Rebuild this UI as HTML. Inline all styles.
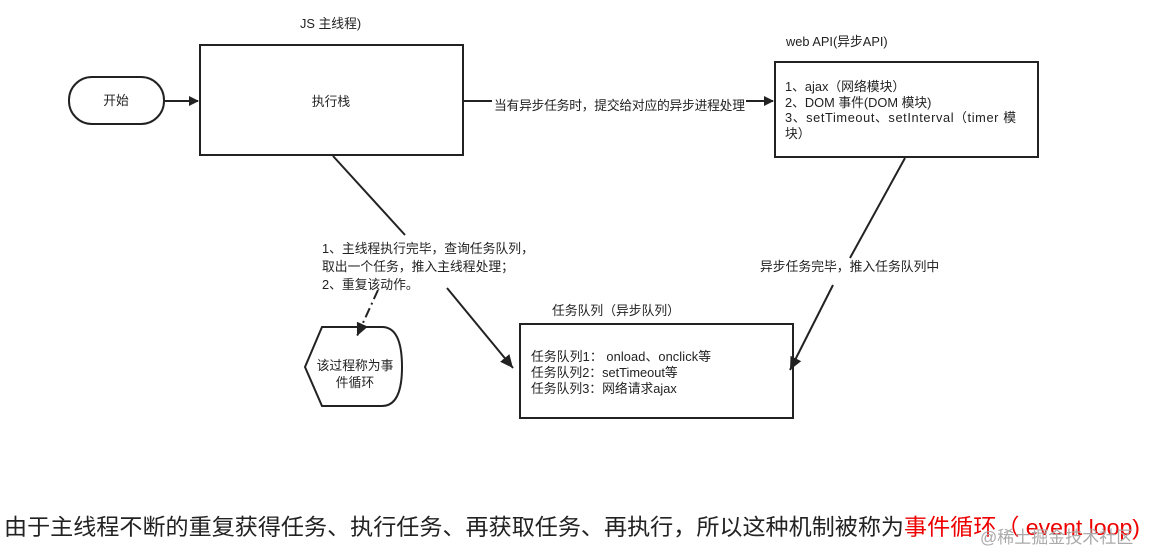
<!DOCTYPE html>
<html><head><meta charset="utf-8"><style>
body{margin:0;background:#fff;width:1149px;height:552px;overflow:hidden}
svg text{font-family:"Liberation Sans","Noto Sans CJK SC",sans-serif;fill:#222}
</style></head><body>
<svg width="1149" height="552" viewBox="0 0 1149 552" xmlns="http://www.w3.org/2000/svg">
<defs><marker id="a" markerWidth="10" markerHeight="10" refX="9" refY="5" orient="auto" markerUnits="userSpaceOnUse"><path d="M0,0 L10,5 L0,10 Z" fill="#222"/></marker>
<marker id="b" markerWidth="14" markerHeight="14" refX="13" refY="7" orient="auto" markerUnits="userSpaceOnUse"><path d="M0,1 L13,7 L0,13 Z" fill="#222"/></marker></defs>
<g stroke="#222" stroke-width="2" fill="none">
<rect x="69" y="77" width="95" height="47" rx="23"/>
<rect x="200" y="45" width="263" height="110"/>
<rect x="775" y="62" width="263" height="95"/>
<rect x="520" y="324" width="273" height="94"/>
<path d="M305,367 L322,327 L382,327 Q402,327 402,367 Q402,406 382,406 L322,406 Z"/>
<line x1="164" y1="101" x2="198" y2="101" marker-end="url(#a)"/>
<line x1="463" y1="101" x2="492" y2="101"/>
<line x1="746" y1="101" x2="773" y2="101" marker-end="url(#a)"/>
<line x1="905" y1="158" x2="850" y2="258"/>
<line x1="833" y1="285" x2="790" y2="370" marker-end="url(#b)"/>
<line x1="333" y1="156" x2="405" y2="235"/>
<line x1="447" y1="288" x2="513" y2="368" marker-end="url(#b)"/>
<line x1="378" y1="290" x2="357" y2="336" stroke-dasharray="10,4,2,4" marker-end="url(#b)"/>
</g>
<g font-size="12.8">
<text x="116" y="105" text-anchor="middle">开始</text>
<text x="300" y="28">JS 主线程)</text>
<text x="331" y="106" text-anchor="middle">执行栈</text>
<text x="494" y="110" textLength="251">当有异步任务时，提交给对应的异步进程处理</text>
<text x="786" y="46">web API(异步API)</text>
<text x="785" y="91">1、ajax（网络模块）</text>
<text x="785" y="107">2、DOM 事件(DOM 模块)</text>
<text x="785" y="122" textLength="231">3、setTimeout、setInterval（timer 模</text>
<text x="785" y="138">块）</text>
<text x="760" y="271">异步任务完毕，推入任务队列中</text>
<text x="552" y="315">任务队列（异步队列）</text>
<text x="531" y="361" textLength="180">任务队列1： onload、onclick等</text>
<text x="531" y="377">任务队列2：setTimeout等</text>
<text x="531" y="393">任务队列3：网络请求ajax</text>
<text x="322" y="253">1、主线程执行完毕，查询任务队列，</text>
<text x="322" y="271">取出一个任务，推入主线程处理；</text>
<text x="322" y="289">2、重复该动作。</text>
<text x="355" y="370" text-anchor="middle">该过程称为事</text>
<text x="355" y="387" text-anchor="middle">件循环</text>
</g>
<text x="4" y="535" font-size="22.5" textLength="1136" lengthAdjust="spacingAndGlyphs">由于主线程不断的重复获得任务、执行任务、再获取任务、再执行，所以这种机制被称为<tspan fill="#e00">事件循环（ event loop)</tspan></text>
<text x="980" y="543" font-size="17" style="fill:#aaa">@稀土掘金技术社区</text>
</svg>
</body></html>
